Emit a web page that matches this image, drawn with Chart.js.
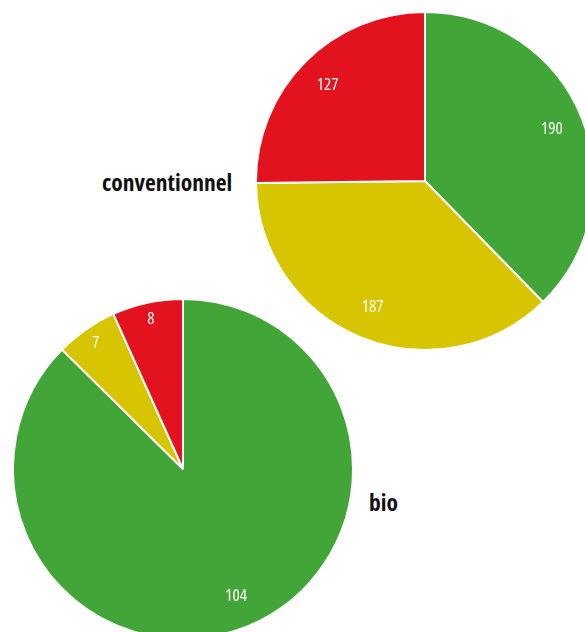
<!DOCTYPE html>
<html>
<head>
<meta charset="utf-8">
<script src="https://cdn.jsdelivr.net/npm/chart.js@4"></script>
<style>
  html, body { margin: 0; padding: 0; background: #fff; overflow: hidden; }
  body { width: 585px; height: 632px; position: relative; }
  canvas { position: absolute; }
  .title { position: absolute; font-family: "Open Sans", sans-serif; font-stretch: 75%; font-weight: bold; font-size: 23.5px; color: #111; line-height: 1; }
</style>
</head>
<body>
<canvas id="conv" width="340" height="340" style="left:255px; top:11px"></canvas>
<canvas id="bio" width="342" height="342" style="left:12px; top:298px"></canvas>
<div class="title" style="left:102px; top:171px">conventionnel</div>
<div class="title" style="left:369px; top:491px">bio</div>
<script>
// catégories et valeurs
const categories = ["vert", "jaune", "rouge"];
const convValues = [190, 187, 127];
const bioValues = [104, 7, 8];
const colors = ["#41a637", "#d6c500", "#e2131f"];

// écrit la valeur dans chaque part
const valueLabels = {
  id: "valueLabels",
  afterDatasetsDraw(chart) {
    const ctx = chart.ctx;
    const meta = chart.getDatasetMeta(0);
    ctx.save();
    ctx.fillStyle = "#fff";
    ctx.font = "17px 'Open Sans', sans-serif";
    ctx.fontStretch = "condensed";
    ctx.textAlign = "center";
    ctx.textBaseline = "middle";
    meta.data.forEach((arc, i) => {
      const mid = (arc.startAngle + arc.endAngle) / 2;
      const span = arc.endAngle - arc.startAngle;
      const r = arc.outerRadius * (span < 0.6 ? 0.9 : 0.81);
      ctx.fillText(chart.data.datasets[0].data[i], arc.x + Math.cos(mid) * r, arc.y + Math.sin(mid) * r);
    });
    ctx.restore();
  },
};

const makePie = (id, values) =>
  new Chart(document.getElementById(id), {
    type: "pie",
    data: {
      labels: categories,
      datasets: [
        {
          data: values,
          backgroundColor: colors,
          borderColor: "#fff",
          borderWidth: 2,
        },
      ],
    },
    options: {
      responsive: false,
      animation: false,
      layout: { padding: 0 },
      plugins: { legend: { display: false }, tooltip: { enabled: false } },
    },
    plugins: [valueLabels],
  });

makePie("conv", convValues);
makePie("bio", bioValues);
</script>
</body>
</html>
